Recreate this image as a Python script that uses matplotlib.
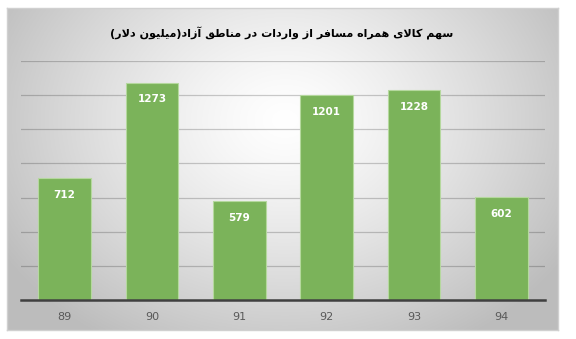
import numpy as np
import matplotlib
matplotlib.use("Agg")
import matplotlib.pyplot as plt

categories = ["89", "90", "91", "92", "93", "94"]
values = [712, 1273, 579, 1201, 1228, 602]
title_text = "سهم کالای همراه مسافر از واردات در مناطق آزاد(میلیون دلار)"

# --- minimal Persian shaping (presentation forms) ---
FORMS = {  # isolated, final, initial, medial
    'ا': ('\uFE8D', '\uFE8E', None, None),
    'آ': ('\uFE81', '\uFE82', None, None),
    'د': ('\uFEA9', '\uFEAA', None, None),
    'ر': ('\uFEAD', '\uFEAE', None, None),
    'ز': ('\uFEAF', '\uFEB0', None, None),
    'و': ('\uFEED', '\uFEEE', None, None),
    'س': ('\uFEB1', '\uFEB2', '\uFEB3', '\uFEB4'),
    'ه': ('\uFEE9', '\uFEEA', '\uFEEB', '\uFEEC'),
    'م': ('\uFEE1', '\uFEE2', '\uFEE3', '\uFEE4'),
    'ک': ('\uFB8E', '\uFB8F', '\uFB90', '\uFB91'),
    'ل': ('\uFEDD', '\uFEDE', '\uFEDF', '\uFEE0'),
    'ی': ('\uFBFC', '\uFBFD', '\uFBFE', '\uFBFF'),
    'ف': ('\uFED1', '\uFED2', '\uFED3', '\uFED4'),
    'ت': ('\uFE95', '\uFE96', '\uFE97', '\uFE98'),
    'ن': ('\uFEE5', '\uFEE6', '\uFEE7', '\uFEE8'),
    'ط': ('\uFEC1', '\uFEC2', '\uFEC3', '\uFEC4'),
    'ق': ('\uFED5', '\uFED6', '\uFED7', '\uFED8'),
}


def dual(c):
    return c in FORMS and FORMS[c][2] is not None


def shape(text):
    out = []
    chars = list(text)
    i = 0
    n = len(chars)
    while i < n:
        c = chars[i]
        if c not in FORMS:
            out.append(c)
            i += 1
            continue
        prev = chars[i - 1] if i > 0 else ''
        jp = dual(prev)
        if c == 'ل' and i + 1 < n and chars[i + 1] == 'ا':
            out.append('\uFEFC' if jp else '\uFEFB')
            i += 2
            continue
        nxt = chars[i + 1] if i + 1 < n else ''
        jn = dual(c) and nxt in FORMS
        iso, fin, ini, med = FORMS[c]
        if jp and jn:
            out.append(med)
        elif jp:
            out.append(fin)
        elif jn:
            out.append(ini)
        else:
            out.append(iso)
        i += 1
    s = ''.join(out)[::-1]
    return s.translate(str.maketrans('()', ')('))


W, H = 576, 339
fig = plt.figure(figsize=(W / 100, H / 100), dpi=100)
fig.patch.set_facecolor('white')

# background panel with radial gradient
x0, x1, y0, y1 = 7, 558, 8, 330
bg = fig.add_axes([x0 / W, 1 - y1 / H, (x1 - x0) / W, (y1 - y0) / H])
gx = np.linspace(x0, x1, 400)
gy = np.linspace(y0, y1, 240)
XX, YY = np.meshgrid(gx, gy)
r = np.sqrt(((XX - 285) / 330) ** 2 + ((YY - 120) / 260) ** 2)
val = np.clip(1.0 - 0.26 * r ** 1.3, 0.74, 1.0)
img = np.dstack([val, val, val])
bg.imshow(img, aspect='auto', extent=[0, 1, 0, 1], origin='upper')
bg.set_xticks([])
bg.set_yticks([])
for sp in bg.spines.values():
    sp.set_color('#d0d0d0')
    sp.set_linewidth(1)

# main axes
ax_l, ax_r, ax_t, ax_b = 21, 545, 61, 300
ax = fig.add_axes([ax_l / W, 1 - ax_b / H, (ax_r - ax_l) / W, (ax_b - ax_t) / H])
ax.patch.set_alpha(0)
xpos = np.arange(len(categories))
bars = ax.bar(xpos, values, width=0.6, color='#7bb35a', edgecolor='#b5d89e',
              linewidth=0.8, zorder=3)
ax.set_xlim(-0.5, len(categories) - 0.5)
ax.set_ylim(0, 1400)
ax.set_yticks(np.arange(0, 1401, 200))
ax.yaxis.grid(True, color='black', alpha=0.2, linewidth=0.9, zorder=0)
ax.set_axisbelow(True)
ax.tick_params(axis='y', length=0, labelleft=False)
ax.tick_params(axis='x', length=0, colors='#595959', labelsize=8, pad=9)
ax.set_xticks(xpos)
ax.set_xticklabels(categories)
for s in ['top', 'left', 'right']:
    ax.spines[s].set_visible(False)
ax.spines['bottom'].set_color('#404040')
ax.spines['bottom'].set_linewidth(1.8)
ax.spines['bottom'].set_zorder(4)

for b, v in zip(bars, values):
    ax.annotate(str(v), (b.get_x() + b.get_width() / 2, v), xytext=(0, -12),
                textcoords='offset points', ha='center', va='center',
                color='white', fontsize=7.5, fontweight='bold', zorder=5)

fig.text(282 / W, 1 - 33 / H, shape(title_text), ha='center', va='center',
         fontsize=8.0, fontweight='bold', color='black', family='DejaVu Sans')

fig.savefig('out.png', dpi=100, facecolor='white')
